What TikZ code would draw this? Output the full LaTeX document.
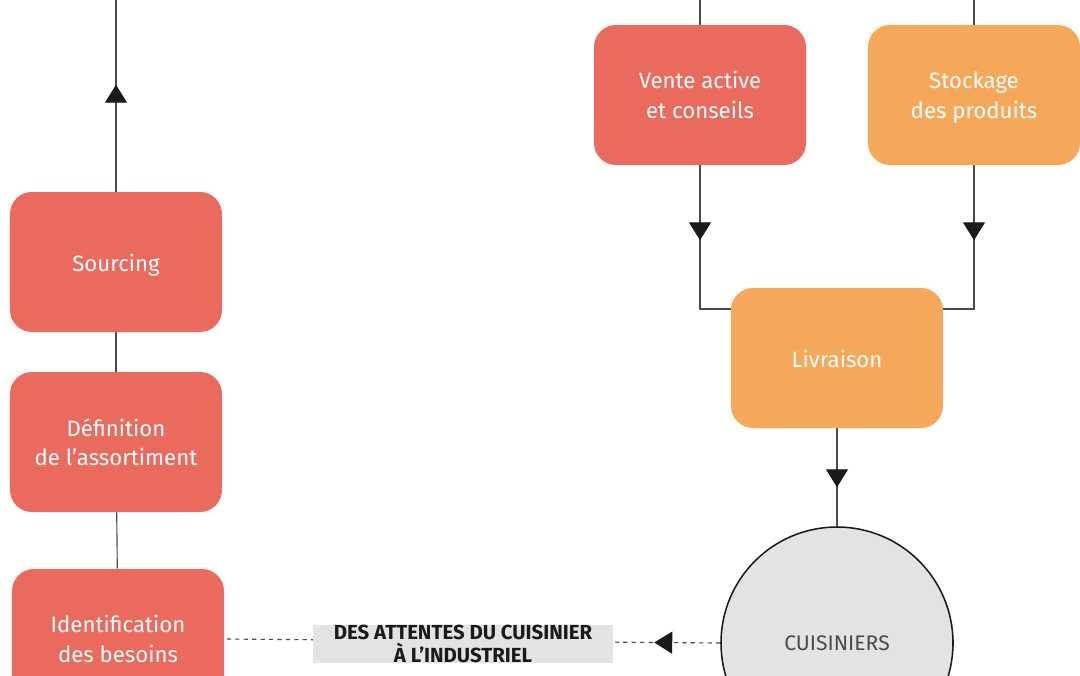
\documentclass[tikz,border=0pt]{standalone}
\usepackage{fontspec}
\setmainfont{Fira Sans}
\usetikzlibrary{arrows.meta,decorations.markings,backgrounds}

\definecolor{redbox}{HTML}{EB6A5E}
\definecolor{orangebox}{HTML}{F5A85A}
\definecolor{greyfill}{HTML}{E3E3E3}
\definecolor{linegrey}{HTML}{4A4A4A}
\definecolor{tipblack}{HTML}{1A1A1A}

\tikzset{
    stepbox/.style={rectangle, rounded corners=0.55cm, minimum width=5.3cm, minimum height=3.5cm,
        align=center, text=white, font=\fontsize{15.8}{21}\selectfont,
        execute at begin node=\rule{0pt}{17pt}, execute at end node=\rule[-3.5pt]{0pt}{0pt}},
    twoline/.style={text depth=-2pt},
    redstep/.style={stepbox, fill=redbox},
    orangestep/.style={stepbox, fill=orangebox},
    flow/.style={draw=linegrey, line width=0.8pt},
    midtip/.style={postaction={decorate, decoration={markings,
        mark=at position #1 with {\arrow[tipblack]{Triangle[width=0.55cm,length=0.45cm]}}}}}
}

\begin{document}
\begin{tikzpicture}
            \useasboundingbox (0,0) rectangle (27,-16.875);

            % Left column
            \node[redstep] (sourcing) at (2.9,-6.55) {Sourcing};
            \node[redstep, twoline] (definition) at (2.9,-11.05) {Définition\\de l’assortiment};
            \node[redstep, twoline] (identification) at (2.95,-15.975) {Identification\\des besoins};
            \coordinate (lefttop) at (2.9,0);

            % Right side
            \node[redstep, twoline] (vente) at (17.5,-2.375) {Vente active\\et conseils};
            \node[orangestep, twoline] (stockage) at (24.35,-2.375) {Stockage\\des produits};
            \node[orangestep] (livraison) at (20.925,-8.95) {Livraison};
            \coordinate (ventetop) at (17.5,0);
            \coordinate (stockagetop) at (24.35,0);
            \coordinate (joinl) at (17.5,-7.725);
            \coordinate (joinr) at (24.35,-7.725);

            % Cooks
            \node[circle, draw=tipblack, line width=1.1pt, fill=greyfill, minimum size=5.8cm,
                text=linegrey, font=\fontsize{15}{18}\selectfont] (cuisiniers) at (20.925,-16.075) {CUISINIERS};

            % Feedback label
            \node[fill=greyfill, minimum width=7.5cm, minimum height=0.925cm, inner ysep=0pt,
                align=center, text=tipblack, font=\fontsize{14.5}{16.3}\selectfont\bfseries] (attentes) at (11.575,-16.1)
                {DES ATTENTES DU CUISINIER\\À L’INDUSTRIEL};

            \begin{scope}[on background layer]
                \draw[flow, midtip=2.675cm] (sourcing) -- (lefttop);
                \draw[flow] (definition) -- (sourcing);
                \draw[flow] (identification) -- (definition);

                \draw[flow] (vente) -- (ventetop);
                \draw[flow] (stockage) -- (stockagetop);
                \draw[flow, midtip=1.875cm] (vente.south) -- (joinl) -- (livraison.center |- joinl);
                \draw[flow, midtip=1.875cm] (stockage.south) -- (joinr) -- (livraison.center |- joinr);
                \draw[flow, midtip=1.475cm] (livraison) -- (cuisiniers);

                \draw[flow, dashed, dash pattern=on 3pt off 3pt, midtip=1.65cm] (cuisiniers.west) -- (identification.east);
            \end{scope}
        \end{tikzpicture}
\end{document}
